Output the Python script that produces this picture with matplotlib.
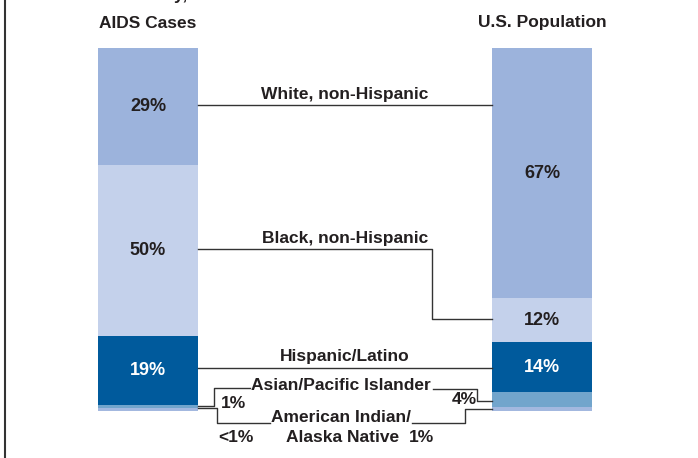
import matplotlib.pyplot as plt
import numpy as np

# segments listed top-down
groups = ['White, non-Hispanic', 'Black, non-Hispanic', 'Hispanic/Latino',
          'Asian/Pacific Islander', 'American Indian/Alaska Native']
aids_labels = ['29%', '50%', '19%', '1%', '<1%']
pop_labels = ['67%', '12%', '14%', '4%', '1%']
# segment heights as drawn (percent of bar)
aids_height = [32.2, 47.1, 19.0, 1.0, 0.7]
pop_height = [68.9, 12.1, 13.8, 4.1, 1.1]
colors = ['#9cb3dc', '#c4d1eb', '#005a9c', '#72a5cc', '#a3b8df']
txt = '#231f20'

W, H = 698, 458
fig = plt.figure(figsize=(W / 100, H / 100), dpi=100)
fig.patch.set_facecolor('white')

# bar axes: percent scale, spans pixel rows 48..411
top_px, bot_px = 48, 411
ax = fig.add_axes([0, (H - bot_px) / H, 1, (bot_px - top_px) / H])
ax.set_xlim(0, W)
ax.set_ylim(0, 100)
ax.axis('off')

font = dict(fontsize=12.5, fontweight='bold', color=txt, family='Liberation Sans')

def stack(xc, heights, labels, white_idx):
    cum = 100.0
    for i, h in enumerate(heights):
        ax.bar(xc, h, bottom=cum - h, width=100, color=colors[i], linewidth=0)
        if i < 3:
            f = dict(font)
            f['fontsize'] = 13
            if i == white_idx:
                f['color'] = 'white'
            ax.text(xc, cum - h / 2, labels[i], ha='center', va='center', **f)
        cum -= h

stack(148, aids_height, aids_labels, 2)
stack(542, pop_height, pop_labels, 2)

# overlay in pixel coords for headers and leader lines
ov = fig.add_axes([0, 0, 1, 1])
ov.set_xlim(0, W)
ov.set_ylim(H, 0)
ov.axis('off')
ov.patch.set_alpha(0)

ov.text(148, 24, 'AIDS Cases', ha='center', va='center', **font)
ov.text(542, 22, 'U.S. Population', ha='center', va='center', **font)
ov.text(188, 0, 'Ethnicity,', ha='right', va='baseline', **font)
ov.plot([4.5, 4.5], [0, H], color='#333333', lw=1.5)

lc = dict(color='#333333', lw=1.0)
# white
ov.plot([198, 492], [105, 105], **lc)
ov.text(345, 95, groups[0], ha='center', va='center', **font)
# black
ov.plot([198, 432, 432, 492], [249, 249, 319, 319], **lc)
ov.text(345, 239, groups[1], ha='center', va='center', **font)
# hispanic
ov.plot([198, 492], [368, 368], **lc)
ov.text(345, 356, groups[2], ha='center', va='center', **font)
# asian
ov.plot([198, 214, 214, 250], [406, 406, 388, 388], **lc)
ov.plot([433, 477, 477, 492], [389, 389, 401, 401], **lc)
ov.text(341, 386, groups[3], ha='center', va='center', **font)
ov.text(234, 404, aids_labels[3], ha='center', va='center', **font)
ov.text(464, 400, pop_labels[3], ha='center', va='center', **font)
# american indian
ov.plot([198, 217, 217, 270], [408, 408, 423, 423], **lc)
ov.plot([412, 465, 465, 492], [423, 423, 409, 409], **lc)
ov.text(341, 417, 'American Indian/', ha='center', va='center', **font)
ov.text(343, 437, 'Alaska Native', ha='center', va='center', **font)
ov.text(236, 437, aids_labels[4], ha='center', va='center', **font)
ov.text(422, 437, pop_labels[4], ha='center', va='center', **font)

fig.savefig('out.png', dpi=100, facecolor='white')
